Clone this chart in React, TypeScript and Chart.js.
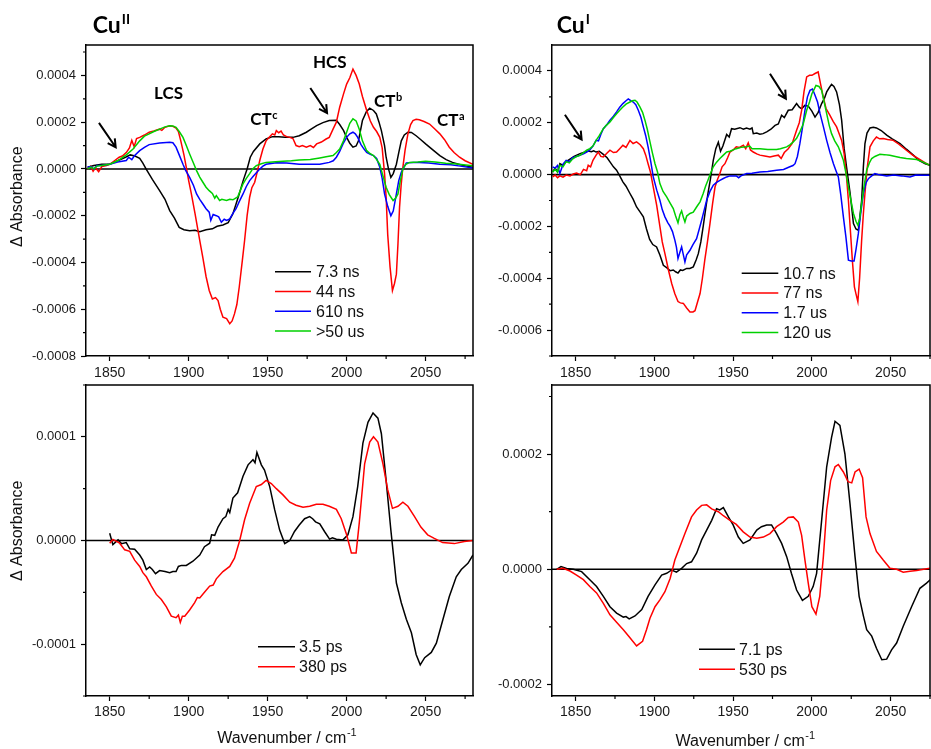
import React, { useEffect, useRef } from 'react';
import { Chart, registerables } from 'chart.js';

Chart.register(...registerables);

// Units: top panels listed in 1e-4 ΔA, bottom panels in 1e-5 ΔA
const U4 = 1e-4;
const U5 = 1e-5;

type Pt = [number, number];

// ---------------- Cu(II), ns–µs (top-left) ----------------
const cu2_7_3ns: Pt[] = [
  [1836, 0.07], [1840, 0.15], [1845, 0.2], [1850, 0.2], [1855, 0.35], [1860, 0.5], [1863, 0.6], [1866, 0.55],
  [1869, 0.45], [1871, 0.25], [1873, 0], [1877, -0.45], [1881.6, -0.93], [1885, -1.3], [1888, -1.78], [1891, -2.1],
  [1894, -2.5], [1897, -2.6], [1900.6, -2.64], [1904, -2.62], [1907, -2.68], [1911, -2.6], [1915, -2.56], [1918, -2.45],
  [1921.7, -2.4], [1925, -2.3], [1928, -1.92], [1930, -1.5], [1932, -1.07], [1934.5, -0.5], [1937, 0], [1939, 0.5],
  [1941, 0.75], [1945, 1.07], [1949, 1.28], [1953, 1.38], [1957, 1.38], [1961, 1.35], [1966, 1.35], [1970, 1.42],
  [1974.5, 1.57], [1978, 1.72], [1981, 1.85], [1985, 1.98], [1989, 2.07], [1993.5, 2.08], [1995.6, 1.9], [1998, 1.65],
  [2000, 1.35], [2002, 1.1], [2004, 0.93], [2006, 0.98], [2007.5, 1.2], [2010, 2.07], [2012.5, 2.45], [2014.6, 2.6],
  [2017, 2.5], [2018.8, 2.35], [2020.5, 2.0], [2022, 1.64], [2024, 1.0], [2025, 0.5], [2026.5, 0], [2028, -0.36],
  [2029.5, -0.2], [2031.5, 0.2], [2033, 0.7], [2034.6, 1.2], [2036.5, 1.45], [2038.8, 1.57], [2041, 1.56], [2044, 1.42],
  [2047, 1.25], [2050, 1.07], [2054, 0.85], [2059, 0.57], [2063, 0.4], [2067, 0.28], [2072, 0.18], [2076, 0.12], [2080, 0.07],
];
const cu2_44ns: Pt[] = [
  [1836, 0], [1838, 0.12], [1839.5, -0.1], [1841, 0.05], [1843, -0.12], [1845, 0.1], [1848, 0.15], [1850, 0.2],
  [1853, 0.35], [1856, 0.5], [1858, 0.55], [1860.5, 0.7], [1862.5, 0.9], [1864, 1.22], [1865.5, 0.95], [1867, 1.3],
  [1869, 1.35], [1872, 1.45], [1875, 1.57], [1878, 1.62], [1881.6, 1.7], [1883, 1.65], [1885, 1.78], [1888, 1.85],
  [1890, 1.82], [1892, 1.75], [1893.5, 1.6], [1895, 1.2], [1897, 0.6], [1898.5, 0.07], [1900, -0.5], [1901.7, -1.07],
  [1904, -1.9], [1907, -3.06], [1909, -3.8], [1911, -4.6], [1913, -5.2], [1915, -5.56], [1917, -5.5], [1918.6, -5.63],
  [1920, -6.0], [1921.7, -6.34], [1924, -6.4], [1926, -6.62], [1927.5, -6.5], [1929, -6.2], [1930.5, -5.8], [1932, -5.06],
  [1934, -3.9], [1935.4, -3.06], [1937, -2.0], [1938.6, -1.21], [1940, -0.8], [1941.8, -0.57], [1943.5, -0.1], [1945, 0.36],
  [1947, 0.85], [1949, 1.2], [1951, 1.35], [1953, 1.5], [1954.5, 1.45], [1955.5, 1.64], [1957, 1.55], [1958.5, 1.62],
  [1960, 1.45], [1962, 1.38], [1964, 1.35], [1966, 1.3], [1968, 1.0], [1970, 0.95], [1972, 1.0], [1974.5, 0.93],
  [1977, 1.0], [1979, 0.92], [1981, 1.07], [1984, 1.15], [1987, 1.28], [1989, 1.35], [1991.4, 1.7], [1993.5, 2.0],
  [1995.6, 2.64], [1998, 3.2], [2000, 3.63], [2002, 3.9], [2004, 4.27], [2006, 4.0], [2008, 3.63], [2010, 3.1],
  [2012.7, 2.5], [2015, 2.05], [2017, 1.78], [2019, 1.6], [2021, 1.35], [2022.5, 0.9], [2024, -0.2], [2025, -1.2],
  [2026, -2.8], [2027.5, -4.2], [2029, -5.2], [2030.3, -4.9], [2031.5, -4.5], [2032.5, -3.2], [2033.5, -1.64], [2034.5, -0.7],
  [2035.6, 0.07], [2037, 0.8], [2038.8, 1.5], [2040.5, 1.9], [2042, 2.07], [2044, 2.12], [2046, 2.1], [2049, 2.03],
  [2052.5, 1.92], [2056, 1.7], [2059, 1.5], [2062, 1.25], [2065, 0.93], [2068, 0.7], [2071.5, 0.5], [2075, 0.35], [2080, 0.2],
];
const cu2_610ns: Pt[] = [
  [1836, 0.07], [1838, 0.1], [1840, 0], [1842, 0.15], [1845, 0.15], [1850, 0.2], [1855, 0.3], [1860.5, 0.36],
  [1862, 0.5], [1864, 0.4], [1865.5, 0.55], [1869, 0.78], [1872, 0.92], [1875, 1.04], [1881.6, 1.11], [1888, 1.14],
  [1890, 1.12], [1892, 0.93], [1894, 0.6], [1896.4, 0.2], [1898, -0.05], [1900.6, -0.36], [1903, -0.7], [1905, -1.07],
  [1907, -1.3], [1909, -1.5], [1911, -1.7], [1913, -1.85], [1914, -2.2], [1915.5, -1.95], [1917.5, -2.0], [1919, -2.05],
  [1920.7, -2.28], [1922.5, -2.15], [1924, -2.2], [1926, -2.14], [1928, -1.9], [1930, -1.7], [1932, -1.4], [1934.4, -1.07],
  [1936.5, -0.75], [1938.6, -0.5], [1941, -0.3], [1943, -0.15], [1945, 0], [1947, 0.12], [1949, 0.2], [1955.5, 0.26],
  [1962, 0.25], [1970, 0.2], [1977, 0.2], [1983, 0.2], [1989, 0.28], [1991.5, 0.35], [1993.5, 0.5], [1995.6, 0.75],
  [1997.7, 1.07], [2000, 1.35], [2002, 1.5], [2004, 1.57], [2005.5, 1.5], [2007, 1.35], [2009, 1.05], [2011, 0.85],
  [2012.7, 0.71], [2015, 0.62], [2017, 0.57], [2019, 0.45], [2021, 0.07], [2022.5, -0.4], [2024, -1.07], [2026, -1.6],
  [2028, -2.0], [2029.5, -1.8], [2031.5, -1.07], [2033, -0.5], [2034.6, -0.14], [2036, 0.05], [2037.8, 0.26], [2042, 0.28],
  [2046, 0.28], [2052, 0.25], [2059, 0.2], [2066, 0.18], [2072, 0.12], [2080, 0.04],
];
const cu2_50us: Pt[] = [
  [1836, 0], [1838, 0.08], [1840, 0], [1842, 0.12], [1845, 0.15], [1850, 0.2], [1855, 0.35], [1860.5, 0.6],
  [1864.8, 0.85], [1869, 1.2], [1872, 1.4], [1875, 1.5], [1878, 1.6], [1881.6, 1.7], [1885, 1.8], [1888, 1.85],
  [1890, 1.84], [1892, 1.78], [1894, 1.6], [1896.4, 1.35], [1898.5, 1.0], [1900.6, 0.64], [1903, 0.25], [1905, -0.07],
  [1907, -0.35], [1909, -0.57], [1911, -0.78], [1913, -0.93], [1915, -1.05], [1916.5, -1.25], [1917.5, -1.14], [1919.6, -1.35],
  [1921, -1.3], [1924, -1.35], [1926, -1.3], [1928, -1.32], [1931, -1.2], [1932.5, -0.95], [1934.4, -0.64], [1936.5, -0.4],
  [1938.6, -0.2], [1940.5, 0], [1942.8, 0.14], [1946, 0.22], [1949, 0.28], [1955, 0.31], [1959.7, 0.33], [1965, 0.35],
  [1970, 0.38], [1977, 0.4], [1983, 0.47], [1987, 0.52], [1991.4, 0.57], [1993.5, 0.7], [1995.6, 0.85], [1998, 1.2],
  [2000, 1.57], [2002, 1.95], [2004, 2.14], [2006, 2.05], [2008, 1.7], [2010, 1.2], [2012.7, 0.78], [2015, 0.65],
  [2017, 0.57], [2019, 0.4], [2021, 0.2], [2023, -0.3], [2025, -0.78], [2027, -1.1], [2029.4, -1.35], [2031, -1.25],
  [2032.5, -1.07], [2034, -0.5], [2035.6, 0], [2037.5, 0.2], [2039.9, 0.28], [2045, 0.3], [2050, 0.33], [2056, 0.3],
  [2062.7, 0.24], [2068, 0.22], [2074, 0.18], [2080, 0.14],
];

// ---------------- Cu(I), ns–µs (top-right) ----------------
const cu1_10_7ns: Pt[] = [
  [1835.4, 0.1], [1837, 0.25], [1838.5, 0.1], [1840, 0.42], [1842, 0.35], [1844, 0.5], [1846.4, 0.6], [1849, 0.7],
  [1852.8, 0.81], [1855, 0.85], [1858, 0.91], [1860, 0.88], [1861.5, 0.92], [1863, 0.87], [1865, 0.9], [1867.6, 0.78],
  [1870, 0.65], [1871.8, 0.49], [1874, 0.3], [1876, 0.17], [1878, -0.05], [1880, -0.28], [1882, -0.45], [1884.5, -0.73],
  [1886.5, -0.95], [1888.7, -1.25], [1891, -1.45], [1893, -1.63], [1895, -2.1], [1897, -2.5], [1899, -2.7], [1901.4, -2.79],
  [1903.5, -3.1], [1905.7, -3.5], [1908, -3.6], [1910, -3.71], [1912, -3.68], [1913.5, -3.75], [1915, -3.8], [1916.5, -3.68],
  [1918, -3.7], [1920.5, -3.62], [1922.5, -3.62], [1924.7, -3.56], [1926.5, -3.3], [1927.9, -3.05], [1929.5, -2.6], [1931, -2.0],
  [1932.5, -1.35], [1934, -0.73], [1935.5, -0.2], [1937.4, 0.55], [1939, 1.0], [1940.6, 1.25], [1942, 0.9], [1943.5, 1.1],
  [1945.9, 1.55], [1947.5, 1.45], [1949, 1.77], [1951, 1.75], [1954.3, 1.81], [1956.5, 1.75], [1958.5, 1.8], [1960.7, 1.75],
  [1962, 1.8], [1962.8, 1.58], [1965, 1.6], [1967, 1.56], [1969, 1.58], [1971.3, 1.65], [1974, 1.75], [1976.6, 1.9],
  [1978.7, 1.95], [1980.8, 2.29], [1982.5, 2.2], [1985, 2.48], [1987.5, 2.5], [1990.3, 2.74], [1992, 2.6], [1993.5, 2.54],
  [1995.5, 2.67], [1997.7, 2.64], [2000, 2.45], [2002, 2.22], [2004, 2.4], [2006.2, 2.74], [2008, 2.95], [2009.4, 3.19],
  [2011, 3.35], [2012.5, 3.48], [2014, 3.4], [2015.7, 3.19], [2017.5, 2.7], [2018.9, 2.1], [2020.5, 1.0], [2022, 0.3],
  [2024.3, -0.73], [2026.4, -1.89], [2028, -2.1], [2029.5, -2.15], [2030.5, -1.6], [2031.6, -1.0], [2032.7, 0.3], [2033.7, 1.2],
  [2035, 1.6], [2036.9, 1.8], [2039, 1.83], [2041, 1.8], [2044, 1.7], [2047.5, 1.52], [2051, 1.38], [2056, 1.2],
  [2060, 0.98], [2064.4, 0.75], [2068, 0.55], [2072, 0.42], [2075, 0.36],
];
const cu1_77ns: Pt[] = [
  [1835.4, -0.09], [1837, -0.02], [1838.5, -0.12], [1840, -0.05], [1842, -0.1], [1844, -0.02], [1846.4, -0.05], [1848.5, 0.02],
  [1850.6, 0.06], [1853, 0], [1855, 0.2], [1857, 0.15], [1858, 0.36], [1859.5, 0.3], [1861, 0.55], [1863, 0.75],
  [1864.4, 0.87], [1866, 0.7], [1867.6, 0.68], [1869.5, 0.8], [1871.8, 0.94], [1874, 0.85], [1876, 0.87], [1878, 1.0],
  [1880, 1.13], [1882, 1.05], [1884.5, 1.32], [1886.5, 1.2], [1888.7, 1.26], [1891, 1.15], [1893, 1.0], [1894.5, 0.75],
  [1896, 0.42], [1897.5, 0.1], [1899.3, -0.48], [1901.5, -1.2], [1903.5, -2.0], [1905, -2.6], [1906.7, -3.05], [1909, -3.7],
  [1911, -4.2], [1913, -4.6], [1915, -4.9], [1916.5, -4.95], [1918.4, -4.97], [1920.5, -5.15], [1922.6, -5.3], [1924.5, -5.3],
  [1925.8, -5.25], [1927.5, -4.9], [1929, -4.59], [1930.5, -4.0], [1932, -3.3], [1933.7, -2.6], [1935.3, -1.89], [1937, -1.1],
  [1938.5, -0.48], [1940, -0.2], [1941.6, 0.04], [1943, 0.3], [1944.8, 0.42], [1946.5, 0.65], [1948, 0.87], [1950, 0.95],
  [1952, 1.07], [1954, 1.05], [1956.5, 1.13], [1958, 1.0], [1959.6, 1.22], [1961, 0.95], [1962.8, 0.87], [1965, 0.8],
  [1967, 0.75], [1970, 0.72], [1973.4, 0.68], [1976, 0.72], [1978.7, 0.75], [1980.5, 0.62], [1982.5, 0.85], [1985, 1.0],
  [1987.5, 1.2], [1990.3, 1.71], [1992, 2.0], [1993.5, 2.48], [1995, 3.2], [1996.7, 3.77], [1998.5, 3.83], [2000, 3.83],
  [2002, 3.9], [2004, 3.96], [2005.5, 3.5], [2007.2, 3.0], [2009, 2.55], [2011.4, 2.29], [2013.5, 2.05], [2015.7, 1.84],
  [2017.5, 1.55], [2018.9, 1.32], [2020.5, 0.8], [2022, -0.09], [2023.2, -1.0], [2024.3, -2.02], [2025.7, -3.3], [2027, -4.33],
  [2028, -4.6], [2029.2, -4.9], [2030.3, -4.0], [2031.6, -2.53], [2032.7, -1.5], [2033.7, -0.73], [2035, 0.2], [2036.9, 1.07],
  [2039, 1.3], [2041, 1.45], [2043, 1.38], [2045.3, 1.39], [2048, 1.35], [2051.7, 1.32], [2055, 1.18], [2060, 0.94],
  [2064, 0.75], [2068.7, 0.58], [2072, 0.45], [2075, 0.36],
];
const cu1_1_7us: Pt[] = [
  [1835.4, 0.3], [1837, 0.25], [1838.5, 0.35], [1840, 0.04], [1842, 0.4], [1844, 0.55], [1846, 0.5], [1848, 0.65],
  [1850.6, 0.7], [1853, 0.75], [1855, 0.8], [1857, 0.87], [1859, 0.95], [1861, 1.1], [1863, 1.32], [1864.5, 1.3],
  [1866, 1.55], [1867.6, 1.77], [1869.5, 1.9], [1871.8, 2.1], [1874, 2.25], [1876, 2.42], [1878, 2.6], [1880, 2.74],
  [1882, 2.85], [1883.4, 2.92], [1885, 2.85], [1886.6, 2.8], [1888.2, 2.7], [1889.8, 2.48], [1891.5, 2.2], [1893, 1.84],
  [1894.5, 1.5], [1896, 1.07], [1897.7, 0.5], [1899.3, -0.09], [1901.5, -0.6], [1903.5, -0.99], [1905, -1.35], [1906.7, -1.63],
  [1908.5, -1.85], [1910, -2.0], [1911.5, -2.2], [1913, -2.53], [1914, -2.8], [1915, -3.24], [1916.2, -3.0], [1917.3, -2.79],
  [1918.4, -3.1], [1919.4, -3.37], [1920.5, -3.1], [1922.6, -2.92], [1924.5, -2.7], [1926.8, -2.47], [1928.5, -2.1], [1930, -1.76],
  [1931.5, -1.4], [1933.2, -0.99], [1935.3, -0.65], [1937.4, -0.41], [1939.5, -0.3], [1941.6, -0.22], [1943.8, -0.15], [1945.9, -0.09],
  [1948, -0.05], [1950, -0.05], [1952, -0.05], [1953.5, -0.12], [1955, -0.05], [1958.6, 0.04], [1962, 0.05], [1967, 0.1],
  [1972, 0.12], [1977.6, 0.17], [1982, 0.2], [1986, 0.3], [1988, 0.35], [1989.3, 0.42], [1990.8, 0.7], [1992.4, 1.2],
  [1994, 1.8], [1995.6, 2.48], [1997.2, 3.0], [1998.8, 3.25], [2000.4, 3.3], [2002, 3.06], [2003.6, 2.8], [2005.2, 2.35],
  [2007.3, 1.85], [2009.4, 1.32], [2011.5, 0.85], [2013.7, 0.42], [2015.3, 0.15], [2016.8, -0.09], [2018.4, -0.8], [2020, -1.63],
  [2021.6, -2.4], [2023.2, -3.3], [2025, -3.33], [2026.8, -3.33], [2028, -2.9], [2029.5, -2.28], [2031, -1.5], [2032.7, -0.73],
  [2034.5, -0.3], [2036, -0.15], [2038, -0.05], [2040, 0.04], [2042, 0], [2047.5, -0.05], [2052, -0.02], [2057, -0.05],
  [2062.3, -0.09], [2066, -0.02], [2070, -0.03], [2075, -0.03],
];
const cu1_120us: Pt[] = [
  [1835.4, 0.1], [1837, 0.2], [1838.5, 0.1], [1840, 0.36], [1842, 0.3], [1844, 0.5], [1846, 0.45], [1848, 0.6],
  [1850.6, 0.7], [1853, 0.75], [1855, 0.85], [1857, 0.94], [1859, 1.0], [1861, 1.1], [1863, 1.32], [1865, 1.5],
  [1867.6, 1.77], [1869.5, 1.9], [1871.8, 2.03], [1874, 2.2], [1876, 2.35], [1878, 2.48], [1880, 2.61], [1882, 2.72],
  [1884.5, 2.8], [1886, 2.85], [1887.7, 2.87], [1889, 2.8], [1890.8, 2.61], [1892.5, 2.4], [1894, 2.1], [1895.5, 1.75],
  [1897, 1.32], [1898.7, 0.85], [1900.4, 0.42], [1902, 0.1], [1903.5, -0.35], [1905.5, -0.65], [1907.8, -0.86], [1910, -1.1],
  [1912, -1.31], [1913.5, -1.6], [1915, -1.86], [1916.2, -1.55], [1917.3, -1.4], [1918.4, -1.65], [1919.4, -1.83], [1920.5, -1.6],
  [1922.6, -1.5], [1924.7, -1.45], [1926.8, -1.25], [1929, -1.05], [1931, -0.73], [1932.5, -0.45], [1934, -0.22], [1935.7, 0.05],
  [1937.4, 0.3], [1939.5, 0.48], [1941.6, 0.62], [1943.8, 0.75], [1945.9, 0.87], [1948, 0.9], [1952, 1.0], [1955, 1.05],
  [1958.6, 1.07], [1960.5, 1.1], [1962, 1.0], [1965, 1.0], [1967, 1.0], [1972, 0.97], [1977.6, 0.97], [1980, 1.0],
  [1984, 1.07], [1986, 1.15], [1988.2, 1.26], [1990.3, 1.4], [1992.4, 1.65], [1994.5, 1.95], [1996.7, 2.48], [1998.5, 2.8],
  [2000, 3.12], [2001.5, 3.3], [2002.6, 3.44], [2004.5, 3.4], [2006.2, 3.25], [2007.8, 2.8], [2009.4, 2.35], [2011, 1.9],
  [2012.5, 1.58], [2014.5, 1.3], [2016.8, 1.07], [2018.5, 0.8], [2020, 0.55], [2021.5, 0.1], [2023.2, -0.48], [2024.8, -1.0],
  [2026.4, -1.5], [2028, -1.8], [2029.2, -1.95], [2030.4, -1.7], [2031.6, -1.12], [2033, -0.5], [2034.8, 0.17], [2036.5, 0.45],
  [2038, 0.62], [2040, 0.7], [2043.2, 0.78], [2046, 0.77], [2049.5, 0.75], [2053, 0.7], [2056, 0.66], [2060, 0.62],
  [2066.5, 0.58], [2070, 0.5], [2075, 0.36],
];

// ---------------- Cu(II), ps (bottom-left) ----------------
const cu2_3_5ps: Pt[] = [
  [1850, 0.7], [1852, -0.4], [1855.3, 0.06], [1857.4, -0.3], [1860.5, -0.2], [1862.7, -0.8], [1865.8, -0.85], [1869, -1.4],
  [1871, -1.9], [1873.2, -2.8], [1875.3, -2.55], [1877, -2.8], [1879, -3.2], [1881.6, -2.9], [1885, -3.0], [1888, -3.1],
  [1890, -3.0], [1892, -3.0], [1893.5, -2.5], [1895.4, -2.4], [1898.5, -2.4], [1902.7, -2.0], [1907, -1.4], [1910, -0.6],
  [1913.3, -0.26], [1914.5, 0.55], [1916.5, 0.5], [1918.6, 1.3], [1921.7, 2.1], [1923.5, 2.3], [1925, 3.0], [1926, 2.7],
  [1928, 4.1], [1931, 4.6], [1934.4, 6.2], [1937.6, 7.3], [1940.7, 7.8], [1942, 7.5], [1943.2, 8.5], [1946, 7.3],
  [1948, 6.8], [1951.3, 5.2], [1954.4, 3.0], [1957.6, 1.0], [1960.8, -0.3], [1964, 0], [1967, 0.87], [1970, 1.5],
  [1973.4, 2.1], [1976.6, 2.3], [1978.5, 2.1], [1980.3, 1.8], [1983, 1.6], [1986, 0.87], [1989.2, 0.13], [1991, 0.25],
  [1993.5, 0.13], [1997.7, 0.06], [2000.8, 0.55], [2004, 2.3], [2007, 5.2], [2010.3, 9.4], [2013.5, 11.4], [2016.7, 12.3],
  [2019.8, 11.8], [2022, 10.3], [2025, 5.8], [2028, 1.0], [2031.5, -4.1], [2034.6, -6.0], [2037.8, -7.6], [2041, -8.9],
  [2044, -11.0], [2046.6, -12.0], [2049.4, -11.3], [2053.6, -10.8], [2056.8, -9.9], [2061, -7.6], [2065, -5.4], [2069.4, -3.5],
  [2072.6, -2.8], [2076.8, -2.2], [2080, -1.4],
];
const cu2_380ps: Pt[] = [
  [1850, -0.26], [1852, 0.1], [1856.3, -0.26], [1859.5, -0.9], [1862.7, -1.05], [1865.8, -1.9], [1869, -2.5], [1871, -3.1],
  [1873.2, -3.5], [1876.4, -4.4], [1879.5, -5.2], [1882.7, -5.7], [1885.9, -6.4], [1889, -7.3], [1892, -7.45], [1893.5, -7.2],
  [1894.7, -7.9], [1896, -7.3], [1897.5, -7.3], [1900.6, -6.7], [1903.8, -6.0], [1905.5, -5.5], [1907, -5.55], [1910, -5.0],
  [1913.3, -4.4], [1915.5, -4.3], [1917.5, -3.7], [1921.7, -3.0], [1926, -2.5], [1929, -1.7], [1932.3, 0], [1935.4, 2.0],
  [1938.6, 3.6], [1942.8, 5.2], [1946, 5.4], [1949, 5.8], [1952.3, 5.5], [1955.5, 5.0], [1959.7, 4.4], [1964, 3.7],
  [1968, 3.4], [1972.4, 3.2], [1976.6, 3.3], [1980.8, 3.5], [1985, 3.5], [1989, 3.3], [1993.5, 3.0], [1996.6, 2.1],
  [2000, 0.55], [2003, -1.2], [2006, -1.2], [2008, 1.7], [2011.4, 7.4], [2014.6, 9.5], [2017, 10.0], [2019.8, 9.5],
  [2023, 7.4], [2026, 4.9], [2029, 3.1], [2032.5, 3.3], [2035.6, 3.7], [2038.8, 3.3], [2043, 2.3], [2047, 1.3],
  [2051.3, 0.55], [2055.5, 0.2], [2060.8, -0.2], [2068.2, -0.3], [2074.5, -0.1], [2080, 0],
];

// ---------------- Cu(I), ps (bottom-right) ----------------
const cu1_7_1ps: Pt[] = [
  [1838, 0], [1840.7, 0.46], [1844.3, 0.15], [1848.5, 0], [1853.8, -0.4], [1859, -1.8], [1863.3, -3.0], [1867.6, -4.7],
  [1871.8, -6.5], [1876, -7.6], [1880.3, -8.3], [1882, -8.2], [1884, -8.6], [1887.7, -8.1], [1890, -7.5], [1892, -7.0],
  [1896, -4.7], [1900.4, -2.7], [1904.6, -1.0], [1907.8, -0.7], [1911, -0.12], [1914, -0.5], [1917.3, 0.17], [1920.5, 1.0],
  [1923.6, 1.3], [1926.8, 2.8], [1930, 5.1], [1933.2, 6.8], [1936.4, 8.5], [1939.5, 10.5], [1941.5, 10.3], [1943.8, 10.7],
  [1947, 9.1], [1950, 7.7], [1953.3, 5.6], [1956.4, 4.5], [1960.7, 5.1], [1965, 6.8], [1968, 7.4], [1971.3, 7.7],
  [1974.4, 7.7], [1977.6, 6.2], [1980.8, 4.5], [1984, 2.2], [1987, -0.7], [1990.3, -3.6], [1994, -5.4], [1997.7, -4.7],
  [2000.8, -3.0], [2003, -0.7], [2006.2, 8.5], [2009.4, 17.8], [2012.5, 22.9], [2014.7, 25.7], [2017.8, 25.0], [2021, 20.0],
  [2024.2, 11.4], [2027.4, 2.2], [2030, -4.7], [2032.7, -8.1], [2034.8, -10.5], [2038, -11.6], [2041, -13.7], [2044.4, -15.7],
  [2047.5, -15.6], [2050.6, -14.0], [2053.8, -12.8], [2058, -9.9], [2063.3, -6.5], [2068.6, -3.3], [2072.8, -2.4], [2075.3, -1.8],
];
const cu1_530ps: Pt[] = [
  [1838, 0], [1842, 0.17], [1846.4, -0.3], [1850.6, -1.0], [1854.9, -1.8], [1859, -3.0], [1863.3, -4.1], [1867.6, -5.9],
  [1871.8, -7.9], [1876, -9.2], [1880.3, -10.5], [1884.5, -11.9], [1888.7, -13.3], [1892.5, -12.5], [1895, -10.5], [1897.2, -8.5],
  [1900.4, -6.5], [1903.5, -5.3], [1906.7, -3.9], [1910, -1.6], [1913, 1.6], [1916.2, 3.9], [1919.4, 6.2], [1923.6, 9.1],
  [1926.8, 10.3], [1930, 11.1], [1933.2, 11.2], [1936.4, 10.5], [1940.6, 10.0], [1943.8, 9.3], [1948, 8.5], [1952, 7.8],
  [1956.4, 6.5], [1960.7, 5.6], [1965, 5.4], [1969.2, 5.6], [1973.4, 6.2], [1977.6, 7.4], [1981.8, 8.2], [1985, 9.0],
  [1988.2, 9.1], [1991.4, 8.2], [1993.5, 5.9], [1995.6, 1.6], [1997.7, -2.4], [2000, -6.5], [2002.6, -7.8], [2005, -4.7],
  [2007.3, 2.2], [2009.4, 10.3], [2011.9, 15.4], [2014.7, 17.8], [2016.8, 18.2], [2020, 16.9], [2023, 15.2], [2025.3, 15.0],
  [2027.4, 16.9], [2030, 17.4], [2032.2, 15.9], [2034.4, 9.1], [2036.9, 6.2], [2041, 3.1], [2045.3, 1.6], [2049.6, 0.17],
  [2053.8, 0], [2058, -0.5], [2062.3, -0.35], [2066.5, -0.2], [2071, 0], [2075.3, 0.2],
];

// ---------------- Ticks ----------------
const xMajorTicks = [1850, 1900, 1950, 2000, 2050];
const xMinorTicks = [1875, 1925, 1975, 2025, 2075];
const tlYTicks = [-0.0008, -0.0006, -0.0004, -0.0002, 0, 0.0002, 0.0004];
const tlYMinor = [-0.0007, -0.0005, -0.0003, -0.0001, 0.0001, 0.0003, 0.0005];
const trYTicks = [-0.0006, -0.0004, -0.0002, 0, 0.0002, 0.0004];
const trYMinor = [-0.0007, -0.0005, -0.0003, -0.0001, 0.0001, 0.0003];
const blYTicks = [-0.0001, 0, 0.0001];
const blYMinor = [-0.00015, -0.00005, 0.00005, 0.00015];
const brYTicks = [-0.0002, 0, 0.0002];
const brYMinor = [-0.0001, 0.0001, 0.0003];

const SANS = '"Liberation Sans", Arial, Helvetica, sans-serif';
const BOLD = 'Lato, "Open Sans", sans-serif';

interface Series { label: string; color: string; data: Pt[]; unit: number }
interface Annot { text: string; sup?: string; x: number; y: number }
interface Arrow { x1: number; y1: number; x2: number; y2: number }
interface PanelCfg {
  left: number; top: number; width: number; height: number;
  pad: { top: number; right: number; bottom: number; left: number };
  yWidth: number; xHeight: number; xTickPad: number;
  xMin: number; xMax: number; yMin: number; yMax: number;
  yTicks: number[]; yMinor: number[];
  series: Series[];
  legend: { x1: number; x2: number; tx: number; y: number; dy: number };
  title?: { text: string; sup: string; x: number; y: number };
  yTitle?: { x: number; y: number };
  xTitle?: { cx: number; y: number };
  annots?: Annot[];
  arrows?: Arrow[];
}

const BLACK = '#000000';
const RED = '#ff0000';
const BLUE = '#0000ff';
const GREEN = '#00d000';

const panels: PanelCfg[] = [
  {
    left: 0, top: 0, width: 480, height: 380,
    pad: { top: 45, right: 7, bottom: 0, left: 0 }, yWidth: 86, xHeight: 24, xTickPad: 4,
    xMin: 1835, xMax: 2080, yMin: -0.0008, yMax: 0.00053, yTicks: tlYTicks, yMinor: tlYMinor,
    series: [
      { label: '7.3 ns', color: BLACK, data: cu2_7_3ns, unit: U4 },
      { label: '44 ns', color: RED, data: cu2_44ns, unit: U4 },
      { label: '610 ns', color: BLUE, data: cu2_610ns, unit: U4 },
      { label: '>50 us', color: GREEN, data: cu2_50us, unit: U4 },
    ],
    legend: { x1: 275, x2: 311, tx: 316, y: 271.7, dy: 19.8 },
    title: { text: 'Cu', sup: 'II', x: 92.7, y: 33.3 },
    yTitle: { x: 17.5, y: 196.7 },
    annots: [
      { text: 'LCS', x: 1878.1, y: 0.000299 },
      { text: 'HCS', x: 1978.7, y: 0.00043 },
      { text: 'CT', sup: 'c', x: 1939, y: 0.000188 },
      { text: 'CT', sup: 'b', x: 2017.3, y: 0.000264 },
      { text: 'CT', sup: 'a', x: 2057.2, y: 0.000185 },
    ],
    arrows: [
      { x1: 1843.2, y1: 0.000197, x2: 1853.8, y2: 0.0000926 },
      { x1: 1977, y1: 0.000346, x2: 1987.6, y2: 0.000239 },
    ],
  },
  {
    left: 480, top: 0, width: 451, height: 380,
    pad: { top: 45, right: 1, bottom: 0, left: 0 }, yWidth: 72, xHeight: 24, xTickPad: 4,
    xMin: 1835, xMax: 2075, yMin: -0.0007, yMax: 0.0005, yTicks: trYTicks, yMinor: trYMinor,
    series: [
      { label: '10.7 ns', color: BLACK, data: cu1_10_7ns, unit: U4 },
      { label: '77 ns', color: RED, data: cu1_77ns, unit: U4 },
      { label: '1.7 us', color: BLUE, data: cu1_1_7us, unit: U4 },
      { label: '120 us', color: GREEN, data: cu1_120us, unit: U4 },
    ],
    legend: { x1: 261.7, x2: 298.3, tx: 303.3, y: 273.3, dy: 19.7 },
    title: { text: 'Cu', sup: 'I', x: 76.7, y: 33.3 },
    arrows: [
      { x1: 1843.2, y1: 0.000231, x2: 1853.8, y2: 0.000135 },
      { x1: 1973.4, y1: 0.000389, x2: 1983.5, y2: 0.000293 },
    ],
  },
  {
    left: 0, top: 365, width: 480, height: 384,
    pad: { top: 20, right: 7, bottom: 0, left: 0 }, yWidth: 86, xHeight: 53, xTickPad: 3,
    xMin: 1835, xMax: 2080, yMin: -0.00015, yMax: 0.00015, yTicks: blYTicks, yMinor: blYMinor,
    series: [
      { label: '3.5 ps', color: BLACK, data: cu2_3_5ps, unit: U5 },
      { label: '380 ps', color: RED, data: cu2_380ps, unit: U5 },
    ],
    legend: { x1: 258, x2: 295, tx: 299, y: 281.7, dy: 20 },
    yTitle: { x: 17.5, y: 165.8 },
    xTitle: { cx: 286.7, y: 378 },
  },
  {
    left: 480, top: 365, width: 451, height: 384,
    pad: { top: 20, right: 1, bottom: 0, left: 0 }, yWidth: 72, xHeight: 53, xTickPad: 3,
    xMin: 1835, xMax: 2075, yMin: -0.00022, yMax: 0.00032, yTicks: brYTicks, yMinor: brYMinor,
    series: [
      { label: '7.1 ps', color: BLACK, data: cu1_7_1ps, unit: U5 },
      { label: '530 ps', color: RED, data: cu1_530ps, unit: U5 },
    ],
    legend: { x1: 219, x2: 255, tx: 259, y: 284.3, dy: 20 },
    xTitle: { cx: 265, y: 380.5 },
  },
];

function makePlugin(cfg: PanelCfg) {
  return {
    id: 'panelDeco',
    beforeDatasetsDraw(chart: any) {
      const { ctx, chartArea: a, scales } = chart;
      const y0 = scales.y.getPixelForValue(0);
      ctx.save();
      ctx.strokeStyle = '#000';
      ctx.lineWidth = 1.6;
      ctx.beginPath();
      ctx.moveTo(a.left, y0);
      ctx.lineTo(a.right, y0);
      ctx.stroke();
      ctx.restore();
    },
    afterDraw(chart: any) {
      const { ctx, chartArea: a } = chart;
      const sx = chart.scales.x;
      const sy = chart.scales.y;
      ctx.save();
      // frame top/right
      ctx.strokeStyle = '#000';
      ctx.lineWidth = 1.5;
      ctx.beginPath();
      ctx.moveTo(a.left, a.top);
      ctx.lineTo(a.right, a.top);
      ctx.lineTo(a.right, a.bottom);
      ctx.stroke();
      // minor ticks
      ctx.lineWidth = 1.2;
      ctx.beginPath();
      for (const v of xMinorTicks) {
        if (v < sx.min || v > sx.max) continue;
        const px = sx.getPixelForValue(v);
        ctx.moveTo(px, a.bottom);
        ctx.lineTo(px, a.bottom + 3);
      }
      for (const v of cfg.yMinor) {
        const py = sy.getPixelForValue(v);
        ctx.moveTo(a.left, py);
        ctx.lineTo(a.left - 3, py);
      }
      ctx.stroke();

      // legend
      const lg = cfg.legend;
      ctx.font = `16px ${SANS}`;
      ctx.textBaseline = 'middle';
      ctx.textAlign = 'left';
      chart.data.datasets.forEach((ds: any, i: number) => {
        const y = lg.y + i * lg.dy;
        ctx.strokeStyle = ds.borderColor;
        ctx.lineWidth = 1.5;
        ctx.beginPath();
        ctx.moveTo(lg.x1, y);
        ctx.lineTo(lg.x2, y);
        ctx.stroke();
        ctx.fillStyle = '#111';
        ctx.fillText(ds.label, lg.tx, y + 1);
      });

      // annotations
      ctx.fillStyle = '#000';
      ctx.textBaseline = 'alphabetic';
      for (const an of cfg.annots || []) {
        const px = sx.getPixelForValue(an.x);
        const py = sy.getPixelForValue(an.y);
        ctx.font = `bold 17px ${BOLD}`;
        ctx.fillText(an.text, px, py);
        if (an.sup) {
          const w = ctx.measureText(an.text).width;
          ctx.font = `bold 11px ${BOLD}`;
          ctx.fillText(an.sup, px + w + 0.5, py - 6);
        }
      }
      // arrows
      ctx.strokeStyle = '#000';
      ctx.lineWidth = 2;
      for (const ar of cfg.arrows || []) {
        const x1 = sx.getPixelForValue(ar.x1), y1 = sy.getPixelForValue(ar.y1);
        const x2 = sx.getPixelForValue(ar.x2), y2 = sy.getPixelForValue(ar.y2);
        const ang = Math.atan2(y2 - y1, x2 - x1);
        const L = 9, sp = 0.5;
        ctx.beginPath();
        ctx.moveTo(x1, y1);
        ctx.lineTo(x2, y2);
        ctx.moveTo(x2 - L * Math.cos(ang - sp), y2 - L * Math.sin(ang - sp));
        ctx.lineTo(x2, y2);
        ctx.lineTo(x2 - L * Math.cos(ang + sp), y2 - L * Math.sin(ang + sp));
        ctx.stroke();
      }
      // title
      if (cfg.title) {
        const t = cfg.title;
        ctx.font = `bold 23px ${BOLD}`;
        ctx.fillText(t.text, t.x, t.y);
        const w = ctx.measureText(t.text).width;
        ctx.font = `bold 14px ${BOLD}`;
        ctx.fillText(t.sup, t.x + w + 1, t.y - 9);
      }
      // y title
      if (cfg.yTitle) {
        ctx.save();
        ctx.translate(cfg.yTitle.x, cfg.yTitle.y);
        ctx.rotate(-Math.PI / 2);
        ctx.font = `16px ${SANS}`;
        ctx.fillStyle = '#111';
        ctx.textAlign = 'center';
        ctx.textBaseline = 'middle';
        ctx.fillText('\u0394 Absorbance', 0, 0);
        ctx.restore();
      }
      // x title
      if (cfg.xTitle) {
        const main = 'Wavenumber / cm';
        const sup = '-1';
        ctx.fillStyle = '#111';
        ctx.font = `16px ${SANS}`;
        const w1 = ctx.measureText(main).width;
        ctx.font = `11px ${SANS}`;
        const w2 = ctx.measureText(sup).width;
        const start = cfg.xTitle.cx - (w1 + w2) / 2;
        ctx.font = `16px ${SANS}`;
        ctx.fillText(main, start, cfg.xTitle.y);
        ctx.font = `11px ${SANS}`;
        ctx.fillText(sup, start + w1 + 0.5, cfg.xTitle.y - 7);
      }
      ctx.restore();
    },
  };
}

function Panel({ cfg }: { cfg: PanelCfg }) {
  const ref = useRef<HTMLCanvasElement>(null);
  useEffect(() => {
    const canvas = ref.current;
    if (!canvas) return;
    const gridOpts = { display: true, drawOnChartArea: false, drawTicks: true, tickLength: 5, tickWidth: 1.2, color: '#000' };
    const borderOpts = { display: true, color: '#000', width: 1.5 };
    const chart = new Chart(canvas, {
      type: 'line',
      data: {
        datasets: cfg.series.map((s, i) => ({
          label: s.label,
          data: s.data.map(([x, y]) => ({ x, y: y * s.unit })),
          borderColor: s.color,
          backgroundColor: s.color,
          borderWidth: 1.5,
          pointRadius: 0,
          tension: 0,
          fill: false,
          order: cfg.series.length - i,
        })),
      },
      options: {
        responsive: false,
        animation: false,
        devicePixelRatio: 1,
        events: [],
        layout: { padding: cfg.pad },
        plugins: { legend: { display: false }, tooltip: { enabled: false }, title: { display: false } },
        scales: {
          x: {
            type: 'linear',
            min: cfg.xMin,
            max: cfg.xMax,
            afterBuildTicks: (ax: any) => { ax.ticks = xMajorTicks.map((v) => ({ value: v })); },
            afterFit: (ax: any) => { ax.height = cfg.xHeight; },
            ticks: {
              autoSkip: false, maxRotation: 0, padding: cfg.xTickPad,
              font: { family: SANS, size: 14 }, color: '#1a1a1a',
              callback: (v: any) => String(v),
            },
            grid: gridOpts,
            border: borderOpts,
          },
          y: {
            type: 'linear',
            min: cfg.yMin,
            max: cfg.yMax,
            afterBuildTicks: (ax: any) => { ax.ticks = cfg.yTicks.map((v) => ({ value: v })); },
            afterFit: (ax: any) => { ax.width = cfg.yWidth; },
            ticks: {
              autoSkip: false, padding: 5,
              font: { family: SANS, size: 13 }, color: '#1a1a1a',
              callback: (v: any) => Number(v).toFixed(4),
            },
            grid: gridOpts,
            border: borderOpts,
          },
        },
      } as any,
      plugins: [makePlugin(cfg)],
    });
    return () => chart.destroy();
  }, [cfg]);
  return (
    <canvas
      ref={ref}
      width={cfg.width}
      height={cfg.height}
      style={{ position: 'absolute', left: cfg.left, top: cfg.top, width: cfg.width, height: cfg.height }}
    />
  );
}

export default function App() {
  return (
    <div style={{ position: 'absolute', left: 0, top: 0, width: 931, height: 749, background: '#fff', overflow: 'hidden' }}>
      {panels.map((p, i) => <Panel key={i} cfg={p} />)}
    </div>
  );
}
